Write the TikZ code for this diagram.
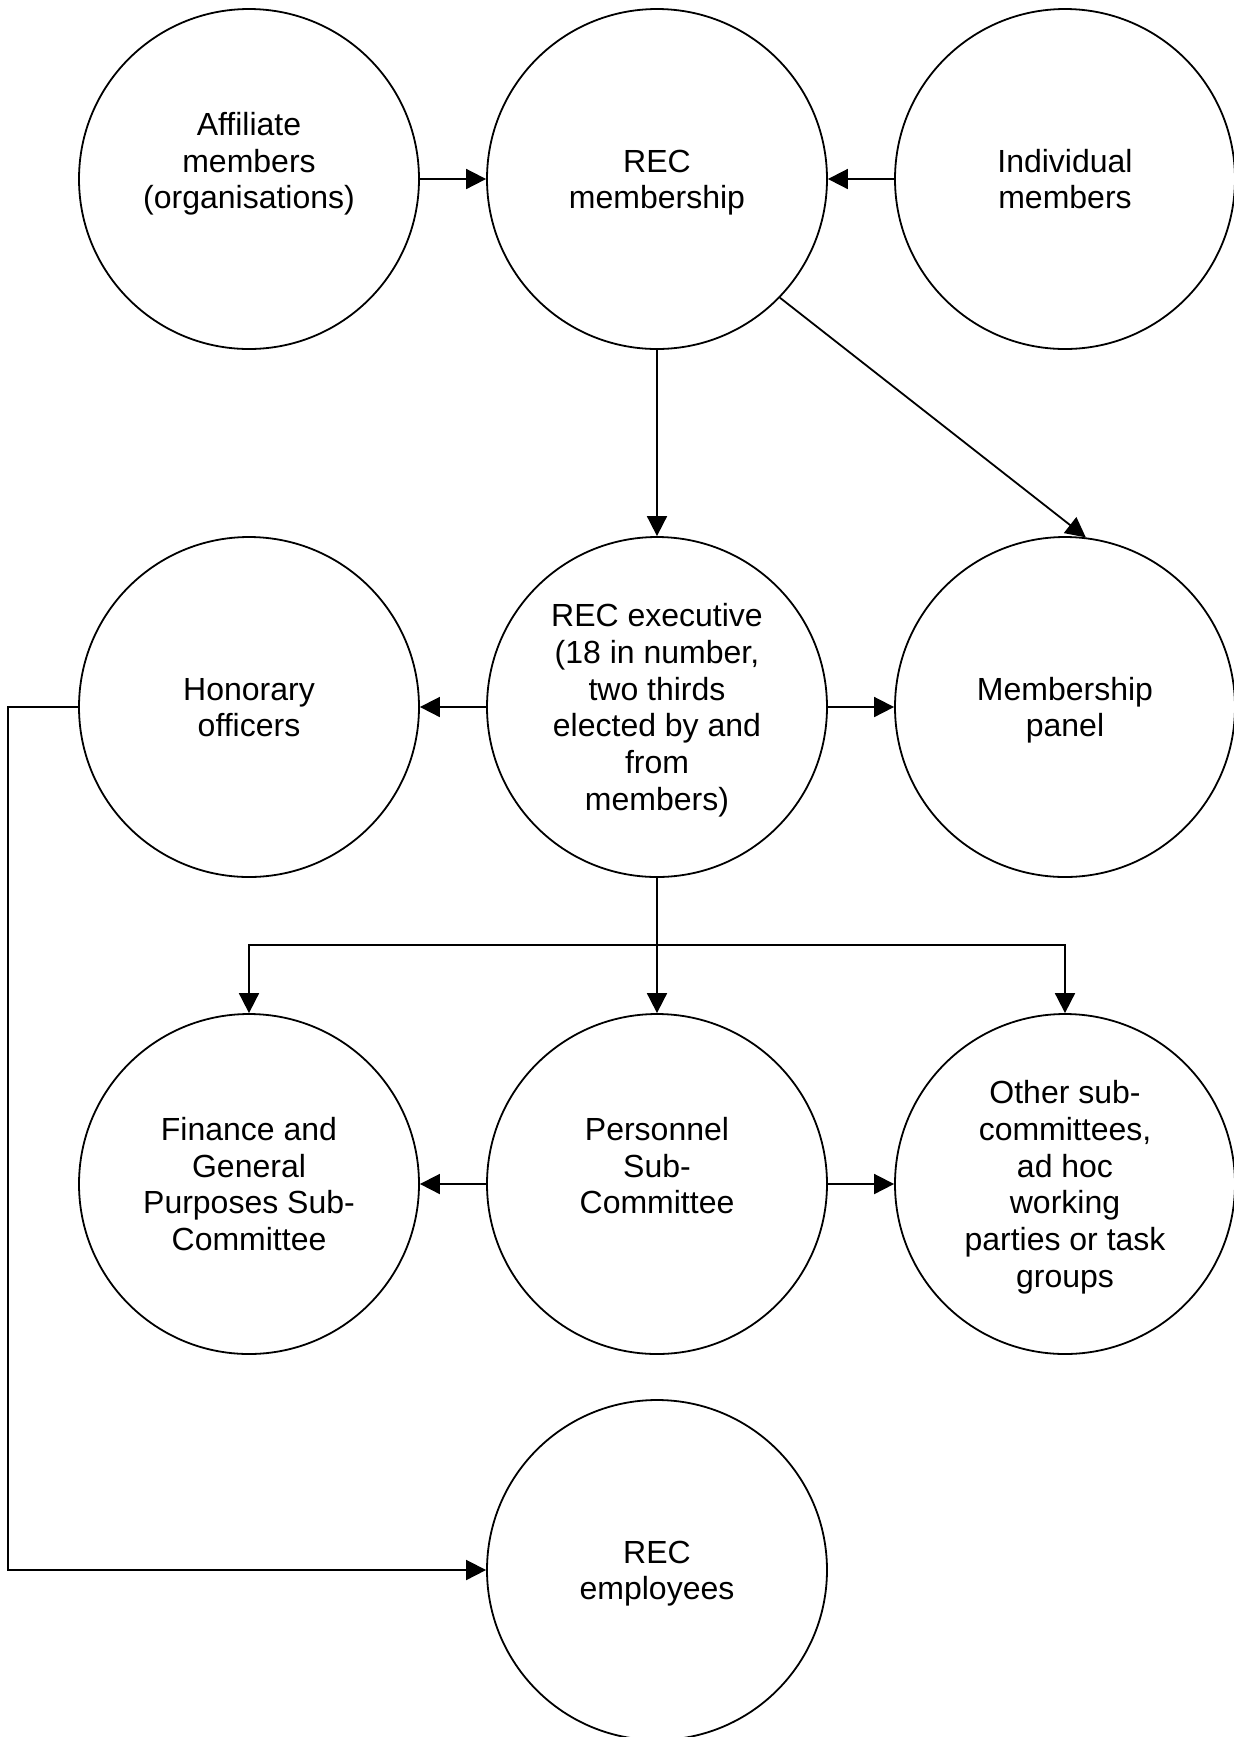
\documentclass[tikz,border=0pt]{standalone}
\usepackage{fontspec}
\setmainfont{Liberation Sans}
\usetikzlibrary{arrows.meta}
% fixed top and bottom struts so every label sits the same way in its circle
\newcommand\nodetext[1]{\rule{0pt}{15pt}#1\rule[-3.5pt]{0pt}{3.5pt}}
\begin{document}
\begin{tikzpicture}[x=0.5pt,y=-0.5pt,
  unit/.style={circle,draw,line width=0.9pt,minimum size=170pt,inner sep=0pt,
    align=center,font=\fontsize{16pt}{18.4pt}\selectfont},
  arr/.style={line width=0.9pt,-{Triangle[length=10pt,width=10pt]}}]
\useasboundingbox (0,0) rectangle (1234,1737);

% Membership row
\node[unit] (affil) at (249,179) {\nodetext{Affiliate\\members\\(organisations)\\\mbox{}}};
\node[unit] (mship) at (657,179) {\nodetext{REC\\membership}};
\node[unit] (indiv) at (1065,179) {\nodetext{Individual\\members}};

% Executive row
\node[unit] (hon) at (249,707) {\nodetext{Honorary\\officers}};
\node[unit] (exec) at (657,707) {\nodetext{REC executive\\(18 in number,\\two thirds\\elected by and\\from\\members)}};
\node[unit] (panel) at (1065,707) {\nodetext{Membership\\panel}};

% Sub-committee row
\node[unit] (fin) at (249,1184) {\nodetext{Finance and\\General\\Purposes Sub-\\Committee}};
\node[unit] (pers) at (657,1184) {\nodetext{Personnel\\Sub-\\Committee\\\mbox{}}};
\node[unit] (other) at (1065,1184) {\nodetext{Other sub-\\committees,\\ad hoc\\working\\parties or task\\groups}};

% Staff
\node[unit] (emp) at (657,1570) {\nodetext{REC\\employees}};

\coordinate (bar) at (657,945);
\coordinate (left) at (8,707);

\draw[arr] (affil) -- (mship);
\draw[arr] (indiv) -- (mship);
\draw[arr] (mship) -- (exec);
\draw[arr] (mship.-44) -- (panel.83);
\draw[arr] (exec) -- (hon);
\draw[arr] (exec) -- (panel);
\draw[arr] (exec) -- (pers);
\draw[arr] (bar) -| (fin);
\draw[arr] (bar) -| (other);
\draw[arr] (pers) -- (fin);
\draw[arr] (pers) -- (other);
\draw[arr] (hon.west) -- (left) |- (emp);
\end{tikzpicture}
\end{document}
